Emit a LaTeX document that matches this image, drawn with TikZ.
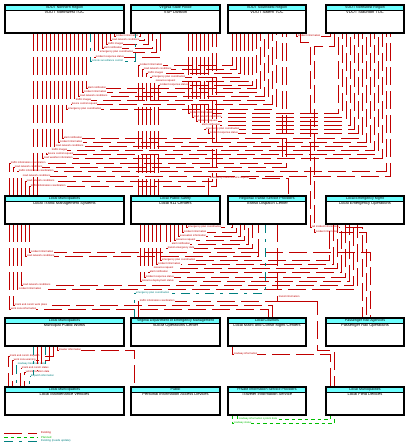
\documentclass[tikz,border=0pt]{standalone}
\usepackage{fontspec}
\setmainfont{Liberation Sans}
\definecolor{colex}{RGB}{192,0,0}
\definecolor{colpl}{RGB}{0,190,0}
\definecolor{colup}{RGB}{0,128,128}
\definecolor{hdrc}{RGB}{110,255,255}
\tikzset{
 ex/.style={draw=colex, line width=0.8pt, dash pattern=on 18pt off 6pt},
 pl/.style={draw=colpl, line width=0.8pt, dash pattern=on 3.5pt off 3pt},
 up/.style={draw=colup, line width=0.8pt, dash pattern=on 9pt off 6pt on 3pt off 6pt},
 lbl/.style={anchor=west, fill=white, inner sep=0.15pt, font=\fontsize{2.6}{2.6}\selectfont},
 leg/.style={anchor=west, inner sep=0pt, font=\fontsize{2.8}{2.8}\selectfont},
 box/.style={inner sep=0pt, outer sep=0pt, minimum height=28pt, anchor=north west},
 boxline/.style={draw=black, line width=1.1pt},
 hdrt/.style={inner sep=0pt, font=\fontsize{3.6}{3.6}\selectfont},
 bodyt/.style={inner sep=0pt, anchor=north, font=\fontsize{4}{4}\selectfont},
}
% connector: style, start anchor, start x, turn y, end x, end anchor, label
\newcommand\cn[7]{%
  \draw[#1] (#3,0 |- #2) -- (#3,#4) -- (#5,#4) -- (#5,0 |- #6);
  \pgfmathsetmacro\lx{min(#3,#5)+1.5}%
  \node[lbl,text=col#1] at (\lx,#4) {#7};
}
\newcommand\bxdef[4]{\node[box, minimum width=#4pt] (#1) at (#2,#3) {};}
\newcommand\bxdraw[3]{%
  \fill[hdrc] (#1.north west) rectangle ([yshift=-5pt]#1.north east);
  \draw[line width=0.6pt] ([yshift=-5pt]#1.north west) -- ([yshift=-5pt]#1.north east);
  \draw[boxline] (#1.north west) rectangle (#1.south east);
  \node[hdrt] at ([yshift=-2.6pt]#1.north) {#2};
  \node[bodyt] at ([yshift=-5.8pt]#1.north) {#3};
}
\begin{document}
\begin{tikzpicture}[x=1pt,y=-1pt]
\useasboundingbox (0,0) rectangle (406,446);
\fill[white] (0,0) rectangle (406,446);
% boxes (geometry)
\bxdef{A}{5}{5}{119}\bxdef{B}{131}{5}{89}\bxdef{C}{228}{5}{78}\bxdef{D}{326}{5}{78}
\bxdef{E}{5}{196}{119}\bxdef{F}{131}{196}{89}\bxdef{G}{228}{196}{78}\bxdef{H}{326}{196}{78}
\bxdef{I}{5}{318}{119}\bxdef{J}{131}{318}{89}\bxdef{K}{228}{318}{78}\bxdef{L}{326}{318}{78}
\bxdef{M}{5}{387}{119}\bxdef{N}{131}{387}{89}\bxdef{O}{228}{387}{78}\bxdef{P}{326}{387}{78}
% A-B
\cn{ex}{A.south}{114}{36}{140}{B.south}{incident information}
\cn{ex}{A.south}{110}{40}{144}{B.south}{road network conditions}
\cn{ex}{A.south}{106}{44}{148}{B.south}{traffic images}
\cn{ex}{A.south}{102}{48}{152}{B.south}{alert notification}
\cn{ex}{A.south}{98}{52}{156}{B.south}{emergency plan coordination}
\cn{ex}{A.south}{94}{57}{160}{B.south}{incident response status}
\cn{up}{A.south}{90}{61}{135}{B.south}{remote surveillance control}
% C-F
\cn{ex}{C.south}{232}{65}{138}{F.north}{incident information}
\cn{ex}{C.south}{236}{69}{142}{F.north}{road network conditions}
\cn{ex}{C.south}{240}{73}{146}{F.north}{traffic images}
\cn{ex}{C.south}{244}{77}{150}{F.north}{emergency plan coordination}
\cn{ex}{C.south}{248}{81}{154}{F.north}{resource request}
\cn{ex}{C.south}{252}{85}{158}{F.north}{incident response status}
% A-C
\cn{ex}{A.south}{86}{88}{256}{C.south}{alert notification}
\cn{ex}{A.south}{82}{92}{260}{C.south}{incident information}
\cn{ex}{A.south}{78}{96}{264}{C.south}{road network conditions}
\cn{ex}{A.south}{74}{100}{268}{C.south}{traffic images}
\cn{ex}{A.south}{70}{104}{272}{C.south}{device control request}
\cn{ex}{A.south}{66}{109}{276}{C.south}{emergency plan coordination}
% B-D
\cn{ex}{B.south}{188}{113}{338}{D.south}{incident information}
\cn{ex}{B.south}{192}{117}{342}{D.south}{road network conditions}
\cn{ex}{B.south}{196}{121}{346}{D.south}{resource request}
\cn{ex}{B.south}{200}{125}{350}{D.south}{alert notification}
\cn{ex}{B.south}{204}{129}{354}{D.south}{emergency plan coordination}
\cn{ex}{B.south}{208}{133}{358}{D.south}{incident response status}
% A-D
\cn{ex}{A.south}{62}{138}{362}{D.south}{alert notification}
\cn{ex}{A.south}{58}{142}{366}{D.south}{incident information}
\cn{ex}{A.south}{54}{146}{370}{D.south}{road network conditions}
\cn{ex}{A.south}{50}{150}{374}{D.south}{traffic images}
\cn{ex}{A.south}{46}{154}{378}{D.south}{device control request}
\cn{ex}{A.south}{42}{158}{382}{D.south}{road weather information}
% E top
\cn{ex}{E.north}{9}{163}{282}{C.south}{traffic information coordination}
\cn{ex}{E.north}{13}{167}{286}{C.south}{road network conditions}
\cn{ex}{E.north}{17}{171}{386}{D.south}{traffic information coordination}
\cn{ex}{E.north}{21}{176}{390}{D.south}{road network conditions}
\cn{ex}{E.north}{25}{181}{212}{B.south}{road network conditions}
\cn{ex}{E.north}{29}{186}{216}{B.south}{traffic information coordination}
\draw[ex] (33,0 |- A.south) -- (33,0 |- E.north);
\draw[ex] (37,0 |- A.south) -- (37,0 |- E.north);
% F-G top, C-D
\cn{ex}{F.north}{208}{178}{288}{G.north}{emergency transit service request}
\cn{ex}{C.south}{296}{36}{330}{D.south}{incident information}
% C-L, D-L
\draw[ex] (300,0 |- C.south) -- (300,42) -- (310,42) -- (310,227) -- (362,227) -- (362,0 |- L.north);
\node[lbl,text=colex] at (311.5,227) {rail incident information};
\draw[ex] (334,0 |- D.south) -- (334,46) -- (314,46) -- (314,232) -- (366,232) -- (366,0 |- L.north);
\node[lbl,text=colex] at (315.5,232) {incident information};
% F-G
\cn{ex}{F.south}{186}{227}{232}{G.south}{emergency plan coordination}
\cn{ex}{F.south}{182}{232}{236}{G.south}{incident information}
\cn{ex}{F.south}{178}{236}{240}{G.south}{evacuation information}
\cn{ex}{F.south}{174}{240}{244}{G.south}{resource request}
\cn{ex}{F.south}{170}{244}{248}{G.south}{alert notification}
\cn{ex}{F.south}{166}{248}{252}{G.south}{transit emergency data}
% F-H
\cn{ex}{F.south}{160}{260}{329}{H.south}{emergency plan coordination}
\cn{ex}{F.south}{156}{264}{333}{H.south}{incident information}
\cn{ex}{F.south}{152}{268}{337}{H.south}{resource request}
\cn{ex}{F.south}{148}{272}{341}{H.south}{alert notification}
\cn{ex}{F.south}{144}{277}{345}{H.south}{incident response status}
\cn{ex}{F.south}{140}{281}{349}{H.south}{resource deployment status}
% E bottom
\cn{ex}{E.south}{29}{252}{370}{L.north}{incident information}
\cn{ex}{E.south}{25}{256}{258}{G.south}{road network conditions}
\cn{ex}{E.south}{21}{285}{353}{H.south}{road network conditions}
\cn{ex}{E.south}{17}{289}{357}{H.south}{incident information}
\cn{ex}{E.south}{13}{305}{272}{K.north}{maint and constr work plans}
\cn{ex}{E.south}{9}{309}{268}{K.north}{work zone information}
% G-J teal
\cn{up}{G.south}{265}{293}{134}{J.north}{emergency plan coordination}
% J-P, G-P
\draw[ex] (138,0 |- J.north) -- (138,301) -- (317,301) -- (317,350) -- (334,350) -- (334,0 |- P.north);
\node[lbl,text=colex] at (139.5,301) {traffic information coordination};
\draw[ex] (277,0 |- G.south) -- (277,301) -- (317,301);
\node[lbl,text=colex] at (278.5,297) {transit information};
% K-P, I-N
\cn{ex}{K.south}{232}{354}{330}{P.north}{roadway information}
\cn{ex}{I.south}{57}{350}{134}{N.north}{traveler information}
% I-M
\cn{ex}{I.south}{53}{356}{8}{M.north}{maint and constr dispatch}
\cn{ex}{I.south}{49}{360}{12}{M.north}{work zone warning}
\cn{up}{I.south}{45}{364}{16}{M.north}{roadway treatment data}
\cn{ex}{I.south}{41}{368}{20}{M.north}{maint and constr status}
\cn{ex}{I.south}{37}{372}{24}{M.north}{vehicle location data}
\cn{up}{I.south}{33}{376}{29}{M.north}{dispatch information}
% green O-P
\cn{pl}{O.south}{237}{419}{330}{P.south}{roadway information system data}
\cn{pl}{O.south}{232}{423}{334}{P.south}{roadway status}
% boxes (drawing)
\bxdraw{A}{VDOT Northern Region}{VDOT Northwest TOC}
\bxdraw{B}{Virginia State Police}{VSP Division}
\bxdraw{C}{VDOT Southwest Region}{VDOT Salem TOC}
\bxdraw{D}{VDOT Northwest Region}{VDOT Staunton TOC}
\bxdraw{E}{Local Municipalities}{Local Traffic Management Systems}
\bxdraw{F}{Local Public Safety}{Local 911 Centers}
\bxdraw{G}{Regional Transit Service Providers}{Transit Dispatch Center}
\bxdraw{H}{Local Emergency Mgmt}{Local Emergency Operations}
\bxdraw{I}{Local Municipalities}{Municipal Public Works}
\bxdraw{J}{Virginia Department of Emergency Management}{VDEM Operations Center}
\bxdraw{K}{Local Counties}{Local Maint and Constr Mgmt Centers}
\bxdraw{L}{Passenger Rail Agencies}{Passenger Rail Operations}
\bxdraw{M}{Local Municipalities}{Local Maintenance Vehicles}
\bxdraw{N}{Public}{Personal Information Access Devices}
\bxdraw{O}{Private Information Service Providers}{Traveler Information Service}
\bxdraw{P}{Local Municipalities}{Local Field Devices}
% legend
\coordinate (la1) at (4,433); \coordinate (lb1) at (37,433);
\coordinate (la2) at (4,437); \coordinate (lb2) at (37,437);
\coordinate (la3) at (4,441); \coordinate (lb3) at (37,441);
\draw[ex] (la1) -- (lb1); \node[leg,text=colex] at (41,433) {Existing};
\draw[pl] (la2) -- (lb2); \node[leg,text=colpl] at (41,437) {Planned};
\draw[up] (la3) -- (lb3); \node[leg,text=colup] at (41,441) {Existing (needs update)};
\end{tikzpicture}
\end{document}
